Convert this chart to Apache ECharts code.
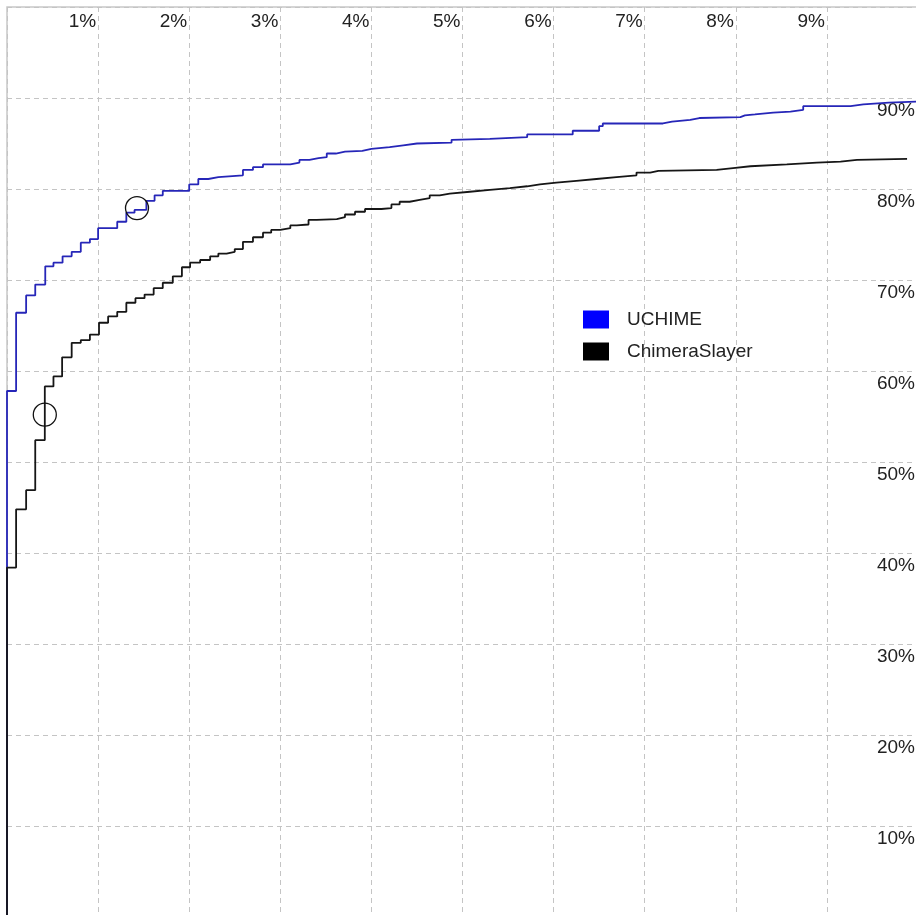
<!DOCTYPE html>
<html>
<head>
<meta charset="utf-8">
<script src="https://cdn.jsdelivr.net/npm/echarts@6/dist/echarts.min.js"></script>
<style>
html,body{margin:0;padding:0;background:#fff;}
#chart{width:916px;height:915px;}
</style>
</head>
<body>
<div id="chart"></div>
<script>
// Step curve corners (false positive %, sensitivity %)
var uchimeX = [0,0,0.10,0.21,0.31,0.42,0.51,0.61,0.71,0.81,0.91,1.00,1.21,1.31,1.40,1.53,1.62,1.71,2.00,2.10,2.21,2.32,2.59,2.70,2.81,3.11,3.21,3.32,3.42,3.51,3.61,3.71,3.90,4.00,4.20,4.35,4.50,4.88,4.90,5.30,5.71,6.21,6.50,6.54,7.20,7.30,7.50,7.60,8.05,8.10,8.21,8.41,8.60,8.74,9.26,9.40,9.68,10];
var uchimeY = [0,57.8,66.4,68.3,69.5,71.5,71.9,72.6,73.1,74.1,74.5,75.7,76.4,77.4,77.7,78.7,79.3,79.8,80.5,81.1,81.3,81.5,82.1,82.4,82.7,82.9,83.2,83.4,83.5,83.9,84.1,84.2,84.4,84.6,84.8,85.0,85.1,85.4,85.5,85.7,86.0,86.4,86.9,87.2,87.4,87.6,87.8,87.9,88.1,88.2,88.4,88.5,88.7,89.1,89.3,89.5,89.6,89.6];
var slayerX = [0,0,0.10,0.21,0.31,0.415,0.51,0.605,0.71,0.81,0.91,1.01,1.11,1.21,1.31,1.41,1.51,1.61,1.71,1.82,1.92,2.01,2.12,2.23,2.32,2.41,2.50,2.59,2.70,2.81,2.90,3.00,3.11,3.18,3.31,3.40,3.62,3.71,3.82,3.93,4.11,4.22,4.31,4.42,4.53,4.64,4.75,4.86,5.08,5.30,5.52,5.71,5.85,6.03,6.25,6.47,6.69,6.91,7.06,7.15,7.79,7.97,8.16,8.56,8.89,9.15,9.33,9.88];
var slayerY = [0,38.4,44.8,46.9,52.4,58.3,59.4,61.5,63.1,63.4,64.0,65.3,66.0,66.5,67.5,68.0,68.4,69.1,69.7,70.4,71.4,71.9,72.2,72.6,72.9,73.1,73.4,74.2,74.7,75.2,75.5,75.7,76.0,76.1,76.6,76.7,76.9,77.2,77.5,77.8,77.9,78.3,78.6,78.8,79.0,79.3,79.5,79.7,79.9,80.1,80.3,80.5,80.7,80.9,81.1,81.3,81.5,81.8,82.0,82.1,82.3,82.5,82.7,82.9,83.0,83.2,83.3,83.3];
// Marked operating points
var markerX = [1.427, 0.415];
var markerY = [77.9, 55.2];
var seriesNames = ['UCHIME', 'ChimeraSlayer'];
var xTicks = [0,1,2,3,4,5,6,7,8,9,10];
var yTicks = [0,10,20,30,40,50,60,70,80,90,100];

function zip(xs, ys){ return xs.map(function(x,i){ return [x, ys[i]]; }); }

var chart = echarts.init(document.getElementById('chart'), null, {renderer:'canvas'});
var font = '"Liberation Sans", Arial, sans-serif';
chart.setOption({
  animation: false,
  backgroundColor: '#ffffff',
  grid: {left: 7, top: 7, width: 911, height: 910, outerBoundsMode: 'none', containLabel: false,
         show: true, borderColor: '#c8c8c8', borderWidth: 1.5, backgroundColor: 'transparent'},
  legend: {
    orient: 'vertical', left: 578, top: 305, icon: 'rect', itemWidth: 26, itemHeight: 18, itemGap: 13,
    textStyle: {fontFamily: font, fontSize: 19, lineHeight: 18, color: '#222', padding: [0,0,0,13]},
    data: [
      {name: seriesNames[0], itemStyle: {color: '#0000ff'}},
      {name: seriesNames[1], itemStyle: {color: '#000000'}}
    ]
  },
  xAxis: {
    type: 'value', position: 'top', min: xTicks[0], max: xTicks[xTicks.length-1], interval: 1,
    axisLine: {show: false}, axisTick: {show: false},
    splitLine: {show: true, lineStyle: {color: '#c4c4c4', type: [5,4], width: 1}},
    axisLabel: {
      inside: true, showMinLabel: false, showMaxLabel: false, margin: 5,
      align: 'right', verticalAlign: 'top', padding: [0,2,0,0],
      fontFamily: font, fontSize: 19, color: '#222',
      formatter: function(v){ return v + '%'; }
    }
  },
  yAxis: {
    type: 'value', position: 'right', min: yTicks[0], max: yTicks[yTicks.length-1], interval: 10,
    axisLine: {show: false}, axisTick: {show: false},
    splitLine: {show: true, lineStyle: {color: '#c4c4c4', type: [5,4], width: 1}},
    axisLabel: {
      inside: true, showMinLabel: false, showMaxLabel: false, margin: 3,
      align: 'right', verticalAlign: 'top', padding: [3,0,0,0],
      fontFamily: font, fontSize: 19, color: '#222',
      formatter: function(v){ return v + '%'; }
    }
  },
  series: [
    {name: seriesNames[0], type: 'line', step: 'end', showSymbol: false, data: zip(uchimeX, uchimeY),
     lineStyle: {color: '#2626b8', width: 1.8}, itemStyle: {color: '#2626b8'}, z: 2},
    {name: seriesNames[1], type: 'line', step: 'end', showSymbol: false, data: zip(slayerX, slayerY),
     lineStyle: {color: '#161616', width: 1.8}, itemStyle: {color: '#161616'}, z: 3},
    {name: 'markers', type: 'scatter', data: zip(markerX, markerY), symbol: 'circle', symbolSize: 23,
     itemStyle: {color: 'rgba(0,0,0,0)', borderColor: '#111', borderWidth: 1.3, opacity: 1}, z: 4, silent: true}
  ]
});
</script>
</body>
</html>
